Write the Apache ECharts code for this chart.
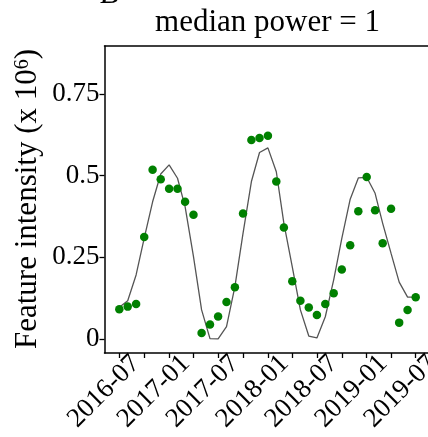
<!DOCTYPE html>
<html>
<head>
<meta charset="utf-8">
<script src="https://cdn.jsdelivr.net/npm/echarts@6/dist/echarts.min.js"></script>
<style>
html,body{margin:0;padding:0;background:#fff;}
#chart{width:428px;height:437px;}
</style>
</head>
<body>
<div id="chart"></div>
<script>
// Monthly observations, 2016-07 .. 2019-07
const months = [
  '2016-07','2016-08','2016-09','2016-10','2016-11','2016-12',
  '2017-01','2017-02','2017-03','2017-04','2017-05','2017-06',
  '2017-07','2017-08','2017-09','2017-10','2017-11','2017-12',
  '2018-01','2018-02','2018-03','2018-04','2018-05','2018-06',
  '2018-07','2018-08','2018-09','2018-10','2018-11','2018-12',
  '2019-01','2019-02','2019-03','2019-04','2019-05','2019-06',
  '2019-07'
];
// Observed feature intensity (green points), x10^6
const observed = [
  0.091,0.099,0.107,0.312,0.518,0.489,
  0.460,0.460,0.420,0.380,0.018,0.044,
  0.069,0.113,0.158,0.384,0.609,0.615,
  0.622,0.482,0.341,0.177,0.117,0.096,
  0.073,0.107,0.140,0.213,0.287,0.391,
  0.496,0.394,0.293,0.399,0.050,0.089,
  0.128
];
// Fitted curve (grey line), x10^6
const fitted = [
  0.097,0.117,0.196,0.309,0.420,0.505,
  0.533,0.492,0.405,0.252,0.089,0.001,
  0.000,0.038,0.160,0.323,0.482,0.571,
  0.585,0.512,0.354,0.221,0.089,0.009,
  0.003,0.068,0.181,0.308,0.428,0.493,
  0.495,0.446,0.354,0.262,0.174,0.128,
  0.128
];
const xTickMonths = ['2016-07','2016-10','2017-01','2017-04','2017-07','2017-10','2018-01','2018-04','2018-07','2018-10','2019-01','2019-04','2019-07'];
const xLabelMonths = ['2016-07','2017-01','2017-07','2018-01','2018-07','2019-01','2019-07'];
const yTickValues = [0, 0.25, 0.5, 0.75];
const yTickLabels = ['0', '0.25', '0.5', '0.75'];
const titleText = 'median power = 1';
const panelLetter = 'B';

function ts(m){ const p = m.split('-'); return Date.UTC(+p[0], +p[1]-1, 1); }
const first = ts(months[0]), last = ts(months[months.length-1]);
const pad = (last - first) * 0.05;
const xMin = first - pad, xMax = last + pad * 0.83; // panel is clipped at the right edge
const yMin = -0.043, yMax = 0.897;

const serif = 'Liberation Serif';
const axisLineStyle = {color:'#000', width:1.5};
const chart = echarts.init(document.getElementById('chart'), null, {renderer:'canvas'});
chart.setOption({
  animation:false,
  backgroundColor:'#fff',
  grid:{left:104.5, right:0, top:46, bottom:84, show:false, containLabel:false},
  xAxis:[{
    type:'value', min:xMin, max:xMax, scale:true,
    splitLine:{show:false},
    axisLine:{show:true, onZero:false, lineStyle:axisLineStyle},
    axisTick:{show:true, length:5, lineStyle:{color:'#000', width:1.3}, customValues: xTickMonths.map(ts)},
    axisLabel:{show:false}
  },{
    type:'value', position:'top', min:xMin, max:xMax, scale:true,
    splitLine:{show:false},
    axisLine:{show:true, onZero:false, lineStyle:axisLineStyle},
    axisTick:{show:false}, axisLabel:{show:false}
  }],
  yAxis:{
    type:'value', min:yMin, max:yMax,
    splitLine:{show:false},
    axisLine:{show:true, onZero:false, lineStyle:axisLineStyle},
    axisTick:{show:true, length:5, lineStyle:{color:'#000', width:1.3}, customValues: yTickValues},
    axisLabel:{
      customValues: yTickValues, margin:5,
      fontFamily:serif, fontSize:27, color:'#000',
      formatter:function(v){ const i = yTickValues.indexOf(v); return i>=0 ? yTickLabels[i] : ''; }
    }
  },
  graphic:[
    {id:'title', type:'text', x:267.5, y:23, style:{text:titleText, font:'31px "Liberation Serif"', fill:'#000', align:'center', verticalAlign:'middle'}},
    {id:'panel', type:'text', x:100, y:-5, style:{text:panelLetter, font:'italic 32px "Liberation Serif"', fill:'#000', align:'left', verticalAlign:'middle'}},
    {id:'ytitle', type:'text', x:28, y:199, rotation:Math.PI/2,
      style:{
        text:'{m|Feature intensity (x 10}{s|6}{m|)}',
        align:'center', verticalAlign:'middle',
        rich:{
          m:{fontFamily:serif, fontSize:31, fill:'#000', lineHeight:31, verticalAlign:'bottom'},
          s:{fontFamily:serif, fontSize:20, fill:'#000', lineHeight:31, verticalAlign:'top'}
        }
      }
    }
  ],
  series:[
    {type:'line', data: months.map((m,i)=>[ts(m), fitted[i]]), showSymbol:false, symbol:'none',
     lineStyle:{color:'#555555', width:1.3}, z:2},
    {type:'scatter', data: months.map((m,i)=>[ts(m), observed[i]]), symbol:'circle', symbolSize:8.5,
     itemStyle:{color:'#008000', opacity:1}, z:3}
  ]
});

// Rotated x tick labels placed at the axis' own pixel positions
const axisY = chart.convertToPixel({yAxisIndex:0}, yMin);
const labelGraphics = xLabelMonths.map(function(m, i){
  const px = chart.convertToPixel({xAxisIndex:0}, ts(m));
  return {id:'xl'+i, type:'text', x:px + 7, y:axisY - 3, rotation:Math.PI/4,
    style:{text:m, font:'27px "Liberation Serif"', fill:'#000', align:'right', verticalAlign:'top'}};
});
chart.setOption({graphic: labelGraphics});
</script>
</body>
</html>
